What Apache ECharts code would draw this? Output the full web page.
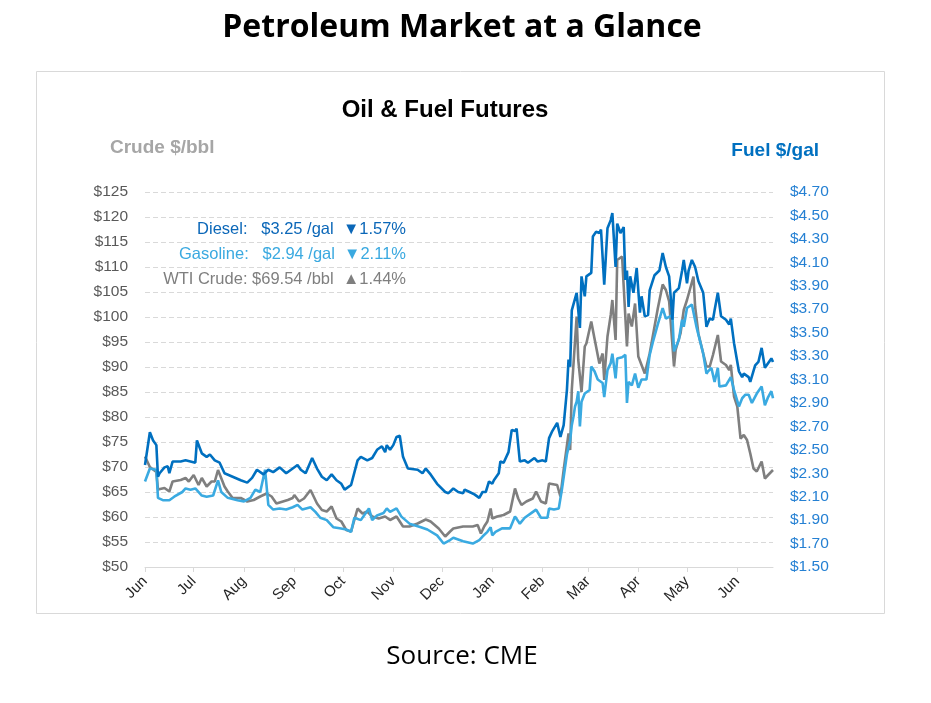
<!DOCTYPE html>
<html>
<head>
<meta charset="utf-8">
<title>Petroleum Market at a Glance</title>
<script src="https://cdn.jsdelivr.net/npm/echarts@6/dist/echarts.min.js"></script>
<style>
  html, body { margin: 0; padding: 0; background: #ffffff; }
  #main { width: 931px; height: 703px; }
</style>
</head>
<body>
<div id="main"></div>
<script>
// [days since 1 Jun 2025, price]
const diesel = [
  [0,2.37],[3,2.65],[5,2.58],[7,2.54],[8,2.27],[9,2.30],[12,2.35],[14,2.36],[15,2.30],[17,2.40],
  [22,2.40],[25,2.41],[28,2.40],[31,2.39],[32,2.58],[35,2.47],[38,2.44],[40,2.46],[43,2.41],[46,2.39],
  [49,2.30],[54,2.27],[59,2.24],[63,2.22],[66,2.26],[69,2.33],[73,2.29],[76,2.33],[79,2.31],[83,2.35],
  [87,2.30],[94,2.37],[96,2.33],[99,2.30],[103,2.43],[106,2.34],[109,2.27],[112,2.24],[115,2.29],[118,2.24],
  [121,2.21],[123,2.16],[127,2.20],[131,2.41],[133,2.44],[137,2.41],[140,2.43],[143,2.50],[146,2.53],[148,2.48],
  [149,2.54],[151,2.50],[153,2.54],[155,2.61],[157,2.62],[159,2.44],[162,2.34],[168,2.33],[171,2.30],[173,2.34],
  [176,2.29],[180,2.21],[185,2.14],[187,2.13],[190,2.17],[193,2.14],[196,2.13],[197,2.16],[200,2.14],[203,2.12],
  [206,2.09],[208,2.14],[210,2.14],[212,2.23],[214,2.21],[215,2.24],[218,2.30],[219,2.40],[221,2.39],[224,2.48],
  [226,2.67],[228,2.66],[229,2.68],[231,2.40],[234,2.41],[236,2.39],[240,2.43],[242,2.40],[245,2.41],[247,2.40],
  [249,2.60],[251,2.66],[254,2.73],[256,2.61],[258,2.71],[260,3.01],[261,3.27],[262,3.21],[263,3.69],[266,3.84],
  [268,3.54],[269,3.98],[271,3.81],[272,3.98],[275,4.01],[276,4.32],[278,4.36],[280,4.35],[281,4.38],[283,3.91],
  [285,4.39],[287,4.46],[288,4.52],[290,4.06],[291,4.43],[293,4.35],[295,4.40],[296,3.95],[297,4.03],[298,3.72],
  [299,3.98],[301,3.84],[303,4.05],[305,3.67],[306,3.81],[308,3.64],[310,3.65],[311,3.86],[314,3.99],[317,4.03],
  [319,4.18],[321,4.06],[323,3.98],[325,3.61],[326,3.84],[329,3.88],[331,4.03],[332,4.12],[334,3.92],[335,4.03],
  [337,4.12],[339,4.06],[341,3.94],[344,3.84],[346,3.55],[348,3.62],[350,3.61],[351,3.69],[353,3.84],[355,3.64],
  [358,3.61],[360,3.57],[361,3.62],[363,3.41],[366,3.17],[368,3.12],[369,3.15],[372,3.12],[373,3.08],[376,3.22],
  [378,3.25],[380,3.37],[382,3.20],[383,3.22],[386,3.28],[387,3.25]
];
const gasoline = [
  [0,2.23],[3,2.34],[7,2.33],[8,2.09],[11,2.07],[15,2.07],[18,2.10],[23,2.14],[25,2.17],[28,2.16],
  [31,2.17],[35,2.11],[38,2.10],[42,2.11],[45,2.24],[47,2.14],[51,2.09],[57,2.07],[61,2.06],[65,2.09],
  [68,2.16],[71,2.14],[74,2.33],[76,2.03],[79,1.99],[83,2.00],[87,1.99],[91,2.01],[94,2.03],[97,1.99],
  [102,2.01],[105,1.97],[108,1.92],[112,1.90],[116,1.84],[120,1.83],[124,1.82],[127,1.80],[129,1.92],[133,1.90],
  [138,2.00],[140,1.90],[143,1.94],[147,1.96],[149,2.00],[151,1.97],[155,2.00],[158,1.93],[163,1.87],[170,1.84],
  [174,1.82],[180,1.77],[184,1.70],[188,1.73],[190,1.75],[196,1.72],[202,1.70],[206,1.73],[208,1.76],[211,1.80],
  [213,1.84],[214,1.77],[216,1.80],[220,1.83],[225,1.83],[228,1.93],[231,1.87],[234,1.92],[238,1.96],[241,1.99],
  [244,1.92],[248,1.92],[249,2.00],[252,1.99],[255,2.00],[257,2.17],[260,2.46],[262,2.58],[263,2.71],[264,2.78],
  [265,2.87],[266,2.91],[267,3.00],[268,2.70],[269,2.91],[271,2.98],[274,3.01],[275,3.21],[277,3.17],[279,3.10],
  [282,3.07],[283,2.95],[285,3.18],[287,3.24],[288,3.32],[290,3.11],[291,3.28],[294,3.29],[296,3.31],[297,2.90],
  [298,3.08],[300,3.05],[302,3.15],[304,3.03],[306,3.10],[309,3.10],[311,3.31],[313,3.42],[316,3.57],[319,3.71],
  [321,3.62],[325,3.65],[326,3.34],[329,3.44],[331,3.61],[332,3.55],[334,3.71],[337,3.74],[340,3.54],[344,3.32],
  [346,3.15],[347,3.17],[349,3.20],[351,3.08],[353,3.20],[354,3.04],[358,3.05],[361,3.12],[363,3.01],[366,2.87],
  [368,2.94],[370,2.97],[372,2.97],[374,2.90],[377,2.98],[380,3.04],[382,2.88],[384,2.95],[386,3.00],[387,2.94]
];
const crude = [
  [0,72.1],[3,70.0],[7,69.0],[8,65.5],[9,65.4],[12,65.8],[15,65.1],[17,67.1],[22,67.4],[25,67.8],
  [27,67.1],[30,68.4],[33,66.4],[35,67.8],[38,66.1],[41,67.1],[43,67.1],[45,69.4],[46,69.4],[49,66.1],
  [51,65.1],[54,63.8],[59,63.8],[63,63.1],[67,63.4],[71,64.1],[75,64.7],[78,64.1],[81,62.7],[85,63.1],
  [88,63.4],[91,63.8],[92,64.4],[95,63.1],[98,63.7],[102,65.4],[106,62.7],[109,61.4],[112,61.1],[115,62.1],
  [118,59.7],[121,59.1],[124,57.4],[127,57.1],[131,61.7],[134,60.7],[137,61.1],[140,60.1],[144,59.7],[148,60.1],
  [151,59.4],[155,60.1],[159,58.1],[163,58.1],[168,58.7],[173,59.5],[176,59.1],[181,57.7],[185,56.1],[188,57.1],
  [190,57.7],[196,58.1],[202,58.1],[205,58.4],[207,56.7],[209,58.1],[211,59.1],[213,61.7],[214,59.7],[217,60.1],
  [221,60.4],[225,61.1],[228,65.7],[230,63.7],[232,62.4],[235,63.1],[239,63.7],[241,65.1],[244,63.1],[247,62.7],
  [249,66.7],[254,66.4],[256,64.1],[258,69.4],[261,76.7],[262,73.4],[263,85.4],[266,100.1],[267,91.4],[269,85.0],
  [271,94.1],[272,94.7],[275,99.1],[277,95.7],[280,90.7],[282,92.7],[283,87.4],[285,96.1],[287,100.4],[288,103.4],
  [290,95.4],[291,111.4],[294,112.1],[295,112.4],[297,94.1],[298,100.7],[300,98.1],[302,102.7],[304,92.1],[308,88.7],
  [311,92.7],[314,98.1],[316,101.7],[319,106.5],[321,105.4],[323,103.1],[324,102.7],[326,90.1],[327,93.4],[330,96.7],
  [332,101.4],[334,103.4],[338,108.1],[339,102.1],[341,96.7],[344,92.7],[346,90.1],[348,90.1],[350,92.4],[353,96.4],
  [355,91.1],[358,90.4],[360,89.4],[361,90.4],[363,84.1],[365,82.1],[367,75.7],[369,76.4],[371,75.4],[373,72.7],
  [375,69.7],[377,69.1],[380,71.1],[382,67.7],[384,68.4],[387,69.4]
];

// first day of each month, counted from 1 Jun 2025
const monthTickDays = [0, 30, 61, 92, 122, 153, 183, 214, 245, 273, 304, 334, 365];
const monthLabels = ['Jun','Jul','Aug','Sep','Oct','Nov','Dec','Jan','Feb','Mar','Apr','May','Jun'];
const fuelTicks = [1.5,1.7,1.9,2.1,2.3,2.5,2.7,2.9,3.1,3.3,3.5,3.7,3.9,4.1,4.3,4.5,4.7];

const legendRows = [
  ['Diesel:   $3.25 /gal  \u25BC1.57%', '#0b67b8'],
  ['Gasoline:   $2.94 /gal  \u25BC2.11%', '#3aa9e0'],
  ['WTI Crude: $69.54 /bbl  \u25B21.44%', '#7f7f7f']
];

const C_DIESEL = '#0070c0';
const C_GAS = '#3aaae1';
const C_CRUDE = '#7f7f7f';
const AXIS_FONT = '"Liberation Sans", Arial, sans-serif';

const chart = echarts.init(document.getElementById('main'));

const txt = (x, y, text, font, fill, align) => ({
  type: 'text', x: x, y: y, silent: true,
  style: { text: text, font: font, fill: fill, align: align || 'center', verticalAlign: 'middle' }
});

const graphics = [
  { type: 'rect', silent: true, z: -10,
    shape: { x: 36.5, y: 71.5, width: 848, height: 542 },
    style: { fill: 'none', stroke: '#d9d9d9', lineWidth: 1 } },
  txt(462, 28, 'Petroleum Market at a Glance', 'bold 32px "Open Sans"', '#000000'),
  txt(462, 657, 'Source: CME', '26px "Open Sans"', '#000000'),
  txt(445, 110, 'Oil & Fuel Futures', 'bold 24px "Liberation Sans"', '#000000'),
  txt(110, 148, 'Crude $/bbl', 'bold 19px "Liberation Sans"', '#a6a6a6', 'left'),
  txt(819, 151, 'Fuel $/gal', 'bold 19px "Liberation Sans"', C_DIESEL, 'right')
];
legendRows.forEach((r, i) => {
  graphics.push(txt(406, 229 + i * 25, r[0], '16.5px "Liberation Sans", "DejaVu Sans"', r[1], 'right'));
});

chart.setOption({
  animation: false,
  backgroundColor: '#ffffff',
  grid: { left: 145, right: 158, top: 192, bottom: 136, containLabel: false },
  xAxis: {
    type: 'value',
    min: 0,
    max: 387,
    axisLine: { show: true, lineStyle: { color: '#d9d9d9', width: 1 } },
    axisTick: { show: true, customValues: monthTickDays, length: 5, lineStyle: { color: '#d9d9d9' } },
    axisLabel: {
      customValues: monthTickDays,
      rotate: 45,
      margin: 12,
      color: '#262626',
      fontSize: 15,
      fontFamily: AXIS_FONT,
      formatter: v => monthLabels[monthTickDays.indexOf(v)]
    },
    splitLine: { show: false }
  },
  yAxis: [
    {
      type: 'value',
      position: 'left',
      min: 50,
      max: 125,
      interval: 5,
      axisLine: { show: false },
      axisTick: { show: false },
      axisLabel: {
        margin: 17,
        color: '#595959',
        fontSize: 15.5,
        fontFamily: AXIS_FONT,
        formatter: v => '$' + v
      },
      splitLine: { show: true, lineStyle: { color: '#d9d9d9', type: [5, 3], width: 1 } }
    },
    {
      type: 'value',
      position: 'right',
      min: 1.5,
      max: 4.7,
      axisLine: { show: false },
      axisTick: { show: false },
      axisLabel: {
        customValues: fuelTicks,
        margin: 17,
        color: '#2580d3',
        fontSize: 15.5,
        fontFamily: AXIS_FONT,
        formatter: v => '$' + Number(v).toFixed(2)
      },
      splitLine: { show: false }
    }
  ],
  graphic: graphics,
  series: [
    { name: 'WTI Crude', type: 'line', yAxisIndex: 0, showSymbol: false, symbol: 'none',
      data: crude, lineStyle: { color: C_CRUDE, width: 2.6 }, itemStyle: { color: C_CRUDE } },
    { name: 'Gasoline', type: 'line', yAxisIndex: 1, showSymbol: false, symbol: 'none',
      data: gasoline, lineStyle: { color: C_GAS, width: 2.6 }, itemStyle: { color: C_GAS } },
    { name: 'Diesel', type: 'line', yAxisIndex: 1, showSymbol: false, symbol: 'none',
      data: diesel, lineStyle: { color: C_DIESEL, width: 2.6 }, itemStyle: { color: C_DIESEL } }
  ]
});
</script>
</body>
</html>
